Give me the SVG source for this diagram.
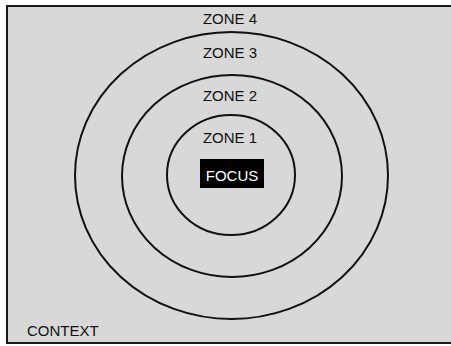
<svg xmlns="http://www.w3.org/2000/svg" width="451" height="346" viewBox="0 0 451 346">
<style>
.ring{fill:none;stroke:#111;stroke-width:2}
.lbl{font-family:"Liberation Sans",Arial,sans-serif;font-size:15px;fill:#111;text-anchor:middle}
</style>
<rect x="0" y="0" width="451" height="346" fill="#ffffff"/>
<g id="context">
<rect x="7" y="6" width="447" height="337" fill="#d8d8d8" stroke="#1a1a1a" stroke-width="2"/>
<text class="lbl" x="27" y="336" style="text-anchor:start">CONTEXT</text>
</g>
<g id="zone4">
<text class="lbl" x="230" y="24">ZONE 4</text>
</g>
<g id="zone3">
<ellipse class="ring" cx="231.5" cy="175.5" rx="156.5" ry="143.5"/>
<text class="lbl" x="230" y="57.5">ZONE 3</text>
</g>
<g id="zone2">
<ellipse class="ring" cx="232" cy="176" rx="110" ry="101"/>
<text class="lbl" x="230" y="100.5">ZONE 2</text>
</g>
<g id="zone1">
<ellipse class="ring" cx="231" cy="175" rx="64" ry="60"/>
<text class="lbl" x="230" y="143">ZONE 1</text>
</g>
<g id="focus">
<rect x="200" y="159" width="64" height="29" fill="#000"/>
<text class="lbl" x="232" y="181" style="fill:#fff">FOCUS</text>
</g>
<g id="connectors"/>
</svg>
